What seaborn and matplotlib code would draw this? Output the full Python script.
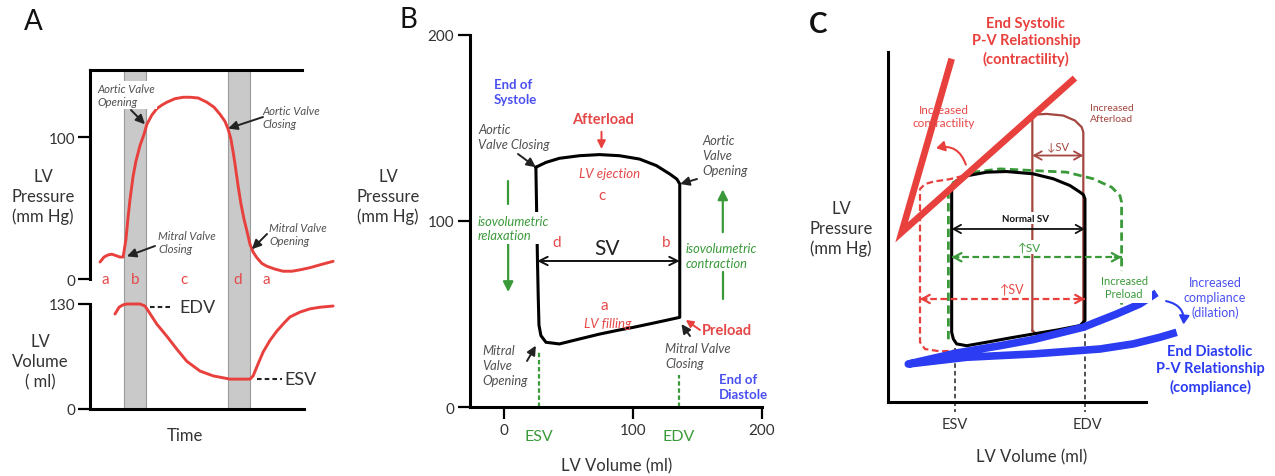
import matplotlib
matplotlib.use("Agg")
import matplotlib.pyplot as plt
import seaborn as sns
from matplotlib.patches import FancyArrowPatch

# ---------------- data ----------------
# Panel A: LV pressure over one cardiac cycle (time in ms, pressure in mm Hg)
time_p = [32, 45, 58, 70, 83, 96, 106, 115, 122, 128, 138, 147, 160, 173, 182, 198, 214,
          230, 246, 272, 298, 320, 346, 374, 397, 416, 432, 442, 451, 458, 464, 474, 483,
          493, 502, 512, 522, 534, 550, 566, 592, 618, 646, 672, 704, 736, 778]
lv_pressure = [12, 15.5, 17, 17.5, 16.5, 15.5, 15.5, 28, 44, 56, 72.5, 83, 94, 102, 109,
               115.5, 120, 122.5, 124.5, 127, 128, 128, 127.5, 124.5, 121, 116, 111, 105.5,
               98.5, 89.5, 81, 65.5, 53, 42, 34, 24.5, 19, 15, 11, 9, 7, 5.5, 5.5, 6.5, 8,
               10, 12.5]
# Panel A: LV volume over the same cycle (ml)
time_v = [80, 93, 106, 118, 138, 160, 176, 182, 214, 246, 278, 310, 352, 394, 448, 512,
          522, 538, 554, 576, 598, 621, 640, 672, 704, 736, 778]
lv_volume = [117.6, 126, 129, 130, 130, 130, 127.5, 124, 105, 90, 74, 59, 47, 41, 37, 37,
             41, 56, 70.5, 85, 96.5, 106.5, 114, 120, 124, 126, 127.5]
# isovolumetric phases (ms)
isovol_contraction = (109, 179)
isovol_relaxation = (441, 512)
phase_letters = ["a", "b", "c", "d", "a"]
phase_times = [50, 144, 300, 474, 563]

# Panel B: pressure-volume loop
loop_b_vol = [24.6, 25.2, 25.8, 26.4, 27.0, 28.5, 32.4, 42.8, 58, 74, 90, 100, 115, 125,
              136.2, 136.2, 136.2, 134, 128.4, 118, 105, 89.5, 74, 58.4, 42.8, 32.4, 24.6]
loop_b_pres = [128.9, 105, 80, 60, 44, 38.4, 34.8, 33.9, 36.5, 39.2, 41.5, 42.8, 45, 46.5,
               48.2, 80, 119.9, 122.5, 125.3, 129.8, 133.3, 135.1, 135.7, 135.1, 133.7,
               131.5, 128.9]
esv_b, edv_b = 27.2, 135.4
ticks_b = [0, 100, 200]

# Panel C: normal loop
loop_n_vol = [38.6, 38.6, 38.6, 39.6, 41.6, 47.7, 59.8, 74, 88, 103, 116.4, 119.4, 119.4,
              119.4, 118.5, 116.4, 110.3, 100.2, 88, 71.9, 59.8, 47.7, 41.6, 38.6]
loop_n_pres = [129, 80, 42.2, 38.2, 35.2, 34.1, 36.2, 38.8, 41.2, 43.7, 46.3, 49.3, 90, 123,
               125.5, 127.1, 131.1, 135.2, 138.2, 139.6, 139.2, 137, 134, 129]
# increased contractility loop (left part; right part shared with normal loop)
loop_ic_vol = [45.5, 37.6, 27.5, 22.4, 19.4, 19.4, 19.4, 22.4, 31.5, 41.6]
loop_ic_pres = [137, 135, 133.5, 132, 129, 80, 36.2, 32.1, 30.7, 31.1]
# increased preload loop (upper and right part)
loop_ip_vol = [36.6, 36.6, 39.6, 51.7, 67.9, 88, 108.3, 124.4, 135.6, 140.6, 141.6, 141.6]
loop_ip_pres = [38, 127, 133, 139.2, 141.2, 140.2, 139.2, 135.2, 130.1, 125, 121, 53.3]
# increased afterload loop
loop_ia_vol = [87.5, 87.5, 89.1, 96.2, 106.3, 113.3, 117.4, 118.4, 118.4, 110, 100, 90.1, 87.5]
loop_ia_pres = [43.2, 171.5, 174.1, 174.5, 173.5, 170.5, 166.5, 163.4, 46.5, 43.6, 42.2,
                41.2, 43.2]
# end-systolic P-V relationships (increased contractility / normal)
espvr_vol = [38.6, 8.3, 113.3]
espvr_pres = [207.9, 102.8, 196.2]
# end-diastolic P-V relationships (normal / increased compliance)
edpvr_vol = [162.8, 152.7, 138.6, 118.4, 88, 67.9, 41.6, 12.3,
             47.7, 88, 128.5, 148.7, 164.8, 175]
edpvr_pres = [66.1, 59.4, 53.3, 45.3, 37.8, 34.1, 29.7, 23,
              27.1, 29.1, 32.1, 35.2, 39.2, 42.2]
esv_c, edv_c = 40.6, 119.7
sv_normal_p, sv_preload_p, sv_contr_p, sv_after_p = 104.8, 87.7, 62.4, 149.3

# ---------------- style ----------------
sns.set_theme(style="white")
plt.rcParams['font.family'] = ['Lato', 'DejaVu Sans']

RED = '#e8403d'
RED_TXT = '#e54848'
BLUE = '#2b3cf2'
BLUE_TXT = '#4a50f0'
GREEN = '#3a9a3a'
BROWN = '#a3463f'
GRAY_TXT = '#505050'
DARK = '#333333'

W, H = 1275, 477
fig = plt.figure(figsize=(W / 100, H / 100), dpi=100)


def axes_px(xl, xr, yt, yb):
    ax = fig.add_axes([xl / W, 1 - yb / H, (xr - xl) / W, (yb - yt) / H])
    ax.set_facecolor('none')
    for s in ax.spines.values():
        s.set_color('black')
        s.set_linewidth(2.2)
    return ax


def line(ax, x, y, clip=False, **kw):
    sns.lineplot(x=x, y=y, ax=ax, sort=False, estimator=None, **kw)
    ax.lines[-1].set_clip_on(clip)
    ax.set_xlabel('')
    ax.set_ylabel('')
    return ax.lines[-1]


def ftext(x, y, s, **kw):
    kw.setdefault('ha', 'center')
    kw.setdefault('va', 'center')
    return fig.text(x / W, 1 - y / H, s, **kw)


def pointer(ax, xy, px, color='#222222', lw=1.4, head=(0.45, 0.22)):
    ax.annotate('', xy=xy, xycoords='data', xytext=(px[0], H - px[1]),
                textcoords='figure pixels', annotation_clip=False,
                arrowprops=dict(arrowstyle=f'-|>,head_length={head[0]},head_width={head[1]}',
                                color=color, lw=lw, shrinkA=0, shrinkB=0))


def dbl_arrow(ax, x0, x1, y, color, lw=1.3, ls='-'):
    if ls == '-':
        ax.annotate('', xy=(x1, y), xytext=(x0, y), annotation_clip=False,
                    arrowprops=dict(arrowstyle='<->,head_length=0.45,head_width=0.25',
                                    color=color, lw=lw, shrinkA=0, shrinkB=0))
    else:
        line(ax, [x0, x1], [y, y], color=color, lw=lw, linestyle=(0, (3, 1.6)))
        d = (x1 - x0) * 0.04
        for a, b in ((x0, x0 + d), (x1, x1 - d)):
            ax.annotate('', xy=(a, y), xytext=(b, y), annotation_clip=False,
                        arrowprops=dict(arrowstyle='->,head_length=0.45,head_width=0.25',
                                        color=color, lw=lw, shrinkA=0, shrinkB=0))


italic = dict(style='italic', color=GRAY_TXT)

# ================= Panel A =================
ax_p = axes_px(90, 340, 71, 410)
ax_p.set_xlim(0, 800)
ax_p.set_ylim(-91.5, 147.2)
ax_p.spines['right'].set_visible(False)
ax_p.spines['bottom'].set_visible(False)
ax_p.spines['top'].set_bounds(0, 678)
ax_p.spines['left'].set_bounds(0, 147.2)
ax_p.set_xticks([])
ax_p.set_yticks([0, 100])
ax_p.tick_params(axis='y', direction='out', length=8.5, width=1.6, pad=2,
                 labelsize=11, labelcolor=DARK, left=True, color='black')
for span in (isovol_contraction, isovol_relaxation):
    ax_p.axvspan(*span, color='#c9c9c9', ec='#9a9a9a', lw=0.8, zorder=0)
line(ax_p, time_p, lv_pressure, color=RED, lw=2.1, zorder=3)

ax_v = axes_px(90, 340, 305, 410)
ax_v.set_xlim(0, 800)
ax_v.set_ylim(0, 130)
ax_v.spines['right'].set_visible(False)
ax_v.spines['top'].set_visible(False)
ax_v.spines['bottom'].set_bounds(0, 685)
ax_v.set_xticks([])
ax_v.set_yticks([0, 130])
ax_v.tick_params(axis='y', direction='out', length=8.5, width=1.6, pad=2,
                 labelsize=11, labelcolor=DARK, left=True, color='black')
line(ax_v, time_v, lv_volume, color=RED, lw=2.1, zorder=3)
# EDV / ESV markers
line(ax_v, [192, 266], [lv_volume[4] - 4, lv_volume[4] - 4], color='#222', lw=1.5,
     linestyle=(0, (2.2, 1.5)))
line(ax_v, [534, 614], [lv_volume[15], lv_volume[15]], color='#222', lw=1.5,
     linestyle=(0, (2.2, 1.5)))
ftext(179, 308, 'EDV', ha='left', fontsize=13, color=DARK)
ftext(284, 380, 'ESV', ha='left', fontsize=13, color=DARK)

for lt, tt in zip(phase_letters, phase_times):
    ax_p.text(tt, 0, lt, ha='center', va='center', color=RED_TXT, fontsize=11)

ftext(33, 22, 'A', fontsize=20, color='#111')
ftext(43, 197, 'LV\nPressure\n(mm Hg)', fontsize=12, color=DARK, linespacing=1.3)
ftext(40, 362, 'LV\nVolume\n( ml)', fontsize=12, color=DARK, linespacing=1.3)
ftext(185, 436, 'Time', fontsize=12, color=DARK)

ftext(97, 96, 'Aortic Valve\nOpening', ha='left', fontsize=8.2, linespacing=1.25,
      bbox=dict(fc='white', ec='none', pad=1.5), zorder=5, **italic)
pointer(ax_p, (176, 109), (131, 111))
ftext(262, 118, 'Aortic Valve\nClosing', ha='left', fontsize=8.2, linespacing=1.25, **italic)
pointer(ax_p, (442, 106), (263, 118))
ftext(158, 243, 'Mitral Valve\nClosing', ha='left', fontsize=8.2, linespacing=1.25, **italic)
pointer(ax_p, (118, 16), (155, 247))
ftext(269, 235, 'Mitral Valve\nOpening', ha='left', fontsize=8.2, linespacing=1.25, **italic)
pointer(ax_p, (518, 21), (267, 235))

# ================= Panel B =================
ax_b = axes_px(470, 762, 36, 408)
ax_b.set_xlim(-26.5, 200)
ax_b.set_ylim(0, 200)
ax_b.spines['right'].set_visible(False)
ax_b.spines['top'].set_visible(False)
ax_b.set_xticks(ticks_b)
ax_b.set_yticks(ticks_b)
ax_b.tick_params(direction='out', length=8.5, width=1.6, pad=3, labelsize=11,
                 labelcolor=DARK, left=True, bottom=True, color='black')
line(ax_b, loop_b_vol, loop_b_pres, color='black', lw=2.2, zorder=3)
line(ax_b, [esv_b, esv_b], [0, 30], color=GREEN, lw=1.6, linestyle=(0, (2, 1.2)))
line(ax_b, [edv_b, edv_b], [0, 17], color=GREEN, lw=1.6, linestyle=(0, (2, 1.2)))
ax_b.text(esv_b, -15.5, 'ESV', ha='center', va='center', color=GREEN, fontsize=11.5)
ax_b.text(edv_b, -15.5, 'EDV', ha='center', va='center', color=GREEN, fontsize=11.5)
ax_b.annotate('', xy=(edv_b + 0.8, 78.5), xytext=(25.6, 78.5),
              arrowprops=dict(arrowstyle='<->,head_length=0.5,head_width=0.25',
                              color='#111', lw=1.4, shrinkA=0, shrinkB=0))
# green phase arrows
line(ax_b, [3.1, 3.1], [121.5, 109], color=GREEN, lw=1.6)
ax_b.annotate('', xy=(3.1, 61.8), xytext=(3.1, 87.6),
              arrowprops=dict(arrowstyle='-|>,head_length=0.5,head_width=0.25',
                              color=GREEN, lw=1.6, shrinkA=0, shrinkB=0))
line(ax_b, [169.6, 169.6], [72.6, 58], color=GREEN, lw=1.6)
ax_b.annotate('', xy=(169.6, 117), xytext=(169.6, 94), annotation_clip=False,
              arrowprops=dict(arrowstyle='-|>,head_length=0.5,head_width=0.25',
                              color=GREEN, lw=1.6, shrinkA=0, shrinkB=0))
# afterload / preload
ax_b.annotate('', xy=(75.5, 138.7), xytext=(75.5, 148),
              arrowprops=dict(arrowstyle='-|>,head_length=0.4,head_width=0.2',
                              color=RED, lw=1.4, shrinkA=0, shrinkB=0))
pointer(ax_b, (140.9, 46.8), (700, 331), color=RED, lw=1.4, head=(0.35, 0.18))

ftext(408, 20, 'B', fontsize=20, color='#111')
ftext(388, 197, 'LV\nPressure\n(mm Hg)', fontsize=12, color=DARK, linespacing=1.3)
ftext(617, 466, 'LV Volume (ml)', fontsize=12, color=DARK)
ftext(494, 93, 'End of\nSystole', ha='left', fontsize=9.5, fontweight='bold',
      color=BLUE_TXT, linespacing=1.3)
ftext(719, 388, 'End of\nDiastole', ha='left', fontsize=9.5, fontweight='bold',
      color=BLUE_TXT, linespacing=1.3)
ftext(603, 120, 'Afterload', fontsize=10.5, fontweight='bold', color=RED_TXT)
ftext(702, 331, 'Preload', ha='left', fontsize=10.5, fontweight='bold', color=RED_TXT)
ftext(478, 138, 'Aortic\nValve Closing', ha='left', fontsize=9.3, linespacing=1.3, **italic)
pointer(ax_b, (24.6, 128.9), (518, 155))
ftext(702, 156, 'Aortic\nValve\nOpening', ha='left', fontsize=9.3, linespacing=1.3, **italic)
pointer(ax_b, (136.5, 119.9), (697, 180))
ftext(665, 357, 'Mitral Valve\nClosing', ha='left', fontsize=9.3, linespacing=1.3, **italic)
pointer(ax_b, (137.5, 44.6), (690, 337))
ftext(482, 366, 'Mitral\nValve\nOpening', ha='left', fontsize=9.3, linespacing=1.3, **italic)
pointer(ax_b, (24.6, 33), (527, 362))
ftext(478, 229, 'isovolumetric\nrelaxation', ha='left', fontsize=9.3, linespacing=1.3,
      style='italic', color=GREEN, bbox=dict(fc='white', ec='none', pad=1.5), zorder=5)
ftext(686, 257, 'isovolumetric\ncontraction', ha='left', fontsize=9.3, linespacing=1.3,
      style='italic', color=GREEN)
ftext(610, 174, 'LV ejection', fontsize=9.5, style='italic', color=RED_TXT)
ftext(602, 196, 'c', fontsize=11, color=RED_TXT)
ftext(557, 243, 'd', fontsize=11, color=RED_TXT)
ftext(666, 243, 'b', fontsize=11, color=RED_TXT)
ftext(607, 249, 'SV', fontsize=15, color='#222')
ftext(604, 306, 'a', fontsize=11, color=RED_TXT)
ftext(608, 324, 'LV filling', fontsize=9.5, style='italic', color=RED_TXT)

# ================= Panel C =================
ax_c = axes_px(888, 1146, 53, 403)
ax_c.set_xlim(0, 156.4)
ax_c.set_ylim(0, 212)
ax_c.spines['right'].set_visible(False)
ax_c.spines['top'].set_visible(False)
ax_c.set_xticks([])
ax_c.set_yticks([])

line(ax_c, [esv_c, esv_c], [33, -6], color='#222', lw=1.1, linestyle=(0, (3, 2)))
line(ax_c, [edv_c, edv_c], [46, -6], color='#222', lw=1.1, linestyle=(0, (3, 2)))
line(ax_c, loop_ia_vol, loop_ia_pres, color=BROWN, lw=1.6)
line(ax_c, loop_ip_vol, loop_ip_pres, color=GREEN, lw=2.0, linestyle=(0, (3, 1.6)))
line(ax_c, loop_ic_vol, loop_ic_pres, color=RED, lw=1.6, linestyle=(0, (3, 1.6)))
line(ax_c, loop_n_vol, loop_n_pres, color='black', lw=2.2)
blue_ln = line(ax_c, edpvr_vol, edpvr_pres, color=BLUE, lw=5.5)
red_ln = line(ax_c, espvr_vol, espvr_pres, color=RED, lw=4.8)
red_ln.set_solid_joinstyle('miter')
red_ln.set_solid_capstyle('butt')
blue_ln.set_solid_capstyle('butt')

dbl_arrow(ax_c, 38.6, 119.4, sv_normal_p, '#111', lw=1.3)
dbl_arrow(ax_c, 38.6, 141.6, sv_preload_p, GREEN, lw=1.6, ls='--')
dbl_arrow(ax_c, 19.4, 119.4, sv_contr_p, RED, lw=1.6, ls='--')
dbl_arrow(ax_c, 87.5, 118.4, sv_after_p, BROWN, lw=1.3)

ax_c.add_patch(FancyArrowPatch((47.7, 142.2), (27.5, 153.3), connectionstyle='arc3,rad=0.5',
                               arrowstyle='-|>,head_length=5,head_width=3', color=RED,
                               lw=1.5, clip_on=False))
ax_c.add_patch(FancyArrowPatch((166.9, 61.4), (179, 45.3), connectionstyle='arc3,rad=-0.5',
                               arrowstyle='-|>,head_length=5,head_width=3', color=BLUE,
                               lw=1.5, clip_on=False))

ftext(818, 25, 'C', fontsize=20, fontweight='bold', color='#111')
ftext(841, 229, 'LV\nPressure\n(mm Hg)', fontsize=12, color=DARK, linespacing=1.3)
ftext(1032, 457, 'LV Volume (ml)', fontsize=12, color=DARK)
ftext(955, 425, 'ESV', fontsize=10.5, color=DARK)
ftext(1087, 425, 'EDV', fontsize=10.5, color=DARK)
ftext(1026, 42, 'End Systolic\nP-V Relationship\n(contractility)', fontsize=10.5,
      fontweight='bold', color=RED, linespacing=1.3)
ftext(944, 117, 'Increased\ncontractility', fontsize=8.5, color=RED_TXT, linespacing=1.25)
ftext(1112, 114, 'Increased\nAfterload', fontsize=7.5, color=BROWN, linespacing=1.25)
ftext(1058, 147, '↓SV', fontsize=8, color=BROWN)
ftext(1025, 219, 'Normal SV', fontsize=7, fontweight='bold', color='#111',
      bbox=dict(fc='white', ec='none', pad=1.0), zorder=5)
ftext(1030, 248, '↑SV', fontsize=8.5, color=GREEN,
      bbox=dict(fc='white', ec='none', pad=0.8), zorder=5)
ftext(1012, 290, '↑SV', fontsize=9, color=RED_TXT,
      bbox=dict(fc='white', ec='none', pad=0.8), zorder=5)
ftext(1124, 288, 'Increased\nPreload', fontsize=8, color=GREEN, linespacing=1.25,
      bbox=dict(fc='white', ec='none', pad=3), zorder=5)
ftext(1215, 298, 'Increased\ncompliance\n(dilation)', fontsize=9, color=BLUE_TXT,
      linespacing=1.25)
ftext(1210, 370, 'End Diastolic\nP-V Relationship\n(compliance)', fontsize=10.5,
      fontweight='bold', color=BLUE, linespacing=1.3)

fig.savefig('out.png', dpi=100)
